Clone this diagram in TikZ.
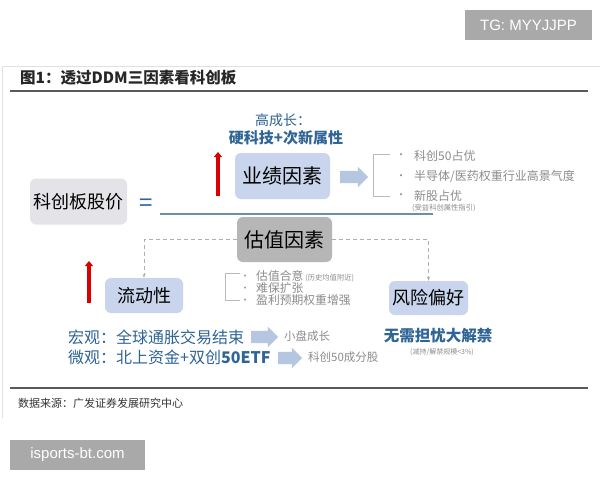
\documentclass[tikz,border=0pt]{standalone}
\usepackage{fontspec}
\setmainfont{Noto Sans CJK SC}
\newfontfamily\wm{Liberation Sans}
\usetikzlibrary{shapes.arrows,arrows.meta}
\definecolor{blueT}{HTML}{2F6496}
\definecolor{boxblue}{HTML}{C8D5EC}
\definecolor{boxgray}{HTML}{E4E4E8}
\definecolor{boxdark}{HTML}{B6B6B6}
\definecolor{arrblue}{HTML}{B4C6E0}
\definecolor{graytext}{HTML}{8C8C8C}
\definecolor{fracline}{HTML}{6E8DA8}
\definecolor{wmgray}{HTML}{A9A9A9}
\tikzset{
  box/.style={rounded corners=6pt, inner sep=0pt, align=center},
  fs/.style={font=\fontsize{#1}{#1}\selectfont},
  blockarrow/.style={single arrow, fill=arrblue, draw=none, minimum height=#1, minimum width=20pt, single arrow head extend=4pt, inner xsep=0pt, inner ysep=6pt},
  bracketline/.style={draw=graytext!60, line width=0.6pt},
  bullettext/.style={anchor=west, text=graytext, inner sep=0pt},
  dashline/.style={draw=graytext!70, dashed, dash pattern=on 4pt off 3pt, line width=0.9pt, -{Stealth[length=4pt]}},
  redarrow/.style={draw=red!85!black, line width=3.5pt, -{Triangle[length=5pt,width=8pt]}},
  wmbox/.style={fill=wmgray, text=white, inner sep=0pt, font=\wm\fontsize{15}{15}\selectfont}
}
\begin{document}
\begin{tikzpicture}[x=1pt,y=-1pt]
\useasboundingbox[fill=white] (0,0) rectangle (600,480);
% watermarks
\node[wmbox, minimum width=127, minimum height=30] (tg) at (528.5,25) {TG: MYYJJPP};
\node[wmbox, minimum width=135, minimum height=30] (isp) at (77.5,455) {isports-bt.com};
% frame
\draw[draw=black!12, line width=0.8pt] (2,418) -- (2,66) -- (600,66);
% title
\node[anchor=west, inner sep=0pt, fs=15.5, text=black!85] (title) at (20,78) {\bfseries 图1：透过DDM三因素看科创板};
\draw[draw=black!65, line width=1.6pt] (10,91) -- (588,91);
\draw[draw=black!65, line width=1.6pt] (10,388) -- (588,388);
\node[anchor=west, inner sep=0pt, fs=11, text=black!80] (src) at (18,403) {数据来源：广发证券发展研究中心};
% top labels
\node[fs=14, text=blueT, inner sep=0pt] (gcz) at (283,120) {高成长：};
\node[fs=15, text=blueT, inner sep=0pt] (yk) at (286,138) {\bfseries 硬科技+次新属性};
% boxes
\node[box, fill=boxgray, minimum width=97, minimum height=46, fs=18] (kc) at (78.5,201.5) {科创板股价};
\node[fs=24, text=blueT, inner sep=0pt] (eq) at (146,205) {=};
\node[box, fill=boxblue, minimum width=95, minimum height=46, fs=20] (yj) at (282.5,176) {业绩因素};
\node[box, fill=boxdark, minimum width=95, minimum height=45, fs=20] (gz) at (284.5,239.5) {估值因素};
\node[box, fill=boxblue, minimum width=78, minimum height=35, fs=18] (ld) at (144,295.5) {流动性};
\node[box, fill=boxblue, minimum width=79, minimum height=34, fs=18] (fx) at (428.5,298) {风险偏好};
% fraction line
\coordinate (fl1) at (160,214);
\coordinate (fl2) at (433,214);
\draw[draw=fracline, line width=1.4pt] (fl1) -- (fl2);
% red arrows
\coordinate (ra1s) at (218,196);
\coordinate (ra1e) at (218,152);
\draw[redarrow] (ra1s) -- (ra1e);
\coordinate (ra2s) at (89,303);
\coordinate (ra2e) at (89,261);
\draw[redarrow] (ra2s) -- (ra2e);
% block arrow from yj
\node[blockarrow=28pt] (ba1) at (351,177) {};
% bracket 1
\coordinate (b1a) at (390,154);
\coordinate (b1b) at (373,154);
\coordinate (b1c) at (373,196);
\coordinate (b1d) at (390,196);
\draw[bracketline] (b1a) -- (b1b) -- (b1c) -- (b1d);
\foreach \yy/\nm in {156/a,177/b,196/c}{\node[text=graytext, inner sep=0pt, fs=10] (dot\nm) at (401,\yy) {•};}
\node[bullettext, fs=12] (t1) at (414,156) {科创50占优};
\node[bullettext, fs=12] (t2) at (414,176) {半导体/医药权重行业高景气度};
\node[bullettext, fs=12] (t3) at (414,196) {新股占优};
\node[bullettext, fs=7.3] (t4) at (412,208) {(受益科创属性指引)};
% dashed connectors
\draw[dashline] (gz.west) -| (ld.north);
\draw[dashline] (gz.east) -| (fx.north);
% bracket 2
\coordinate (b2a) at (240,273);
\coordinate (b2b) at (225,273);
\coordinate (b2c) at (225,300);
\coordinate (b2d) at (240,300);
\draw[bracketline] (b2a) -- (b2b) -- (b2c) -- (b2d);
\foreach \yy/\nm in {277/a,289/b,301/c}{\node[text=graytext, inner sep=0pt, fs=9] (dd\nm) at (245,\yy) {•};}
\node[bullettext, fs=11.8] (u1) at (256,276) {估值合意\,{\fontsize{7.3}{7.3}\selectfont (历史均值附近)}};
\node[bullettext, fs=11.8] (u2) at (256,288) {难保扩张};
\node[bullettext, fs=11.8] (u3) at (256,300) {盈利预期权重增强};
% bottom texts
\node[anchor=west, inner sep=0pt, fs=16, text=blueT] (hg) at (68,337) {宏观：全球通胀交易结束};
\node[anchor=west, inner sep=0pt, fs=16, text=blueT] (wg) at (68,357) {微观：北上资金+双创\textbf{50ETF}};
\node[blockarrow=27pt] (ba2) at (261.5,337) {};
\node[blockarrow=24pt] (ba3) at (287,358) {};
\node[bullettext, fs=11.5] (xp) at (284,336) {小盘成长};
\node[bullettext, fs=11.5] (kc50) at (308,357) {科创50成分股};
\node[inner sep=0pt, fs=15.5, text=blueT] (wx) at (438,336) {\bfseries 无需担忧大解禁};
\node[inner sep=0pt, fs=7, text=graytext] (js) at (442,352) {(减持/解禁规模<3\%)};
\end{tikzpicture}
\end{document}
